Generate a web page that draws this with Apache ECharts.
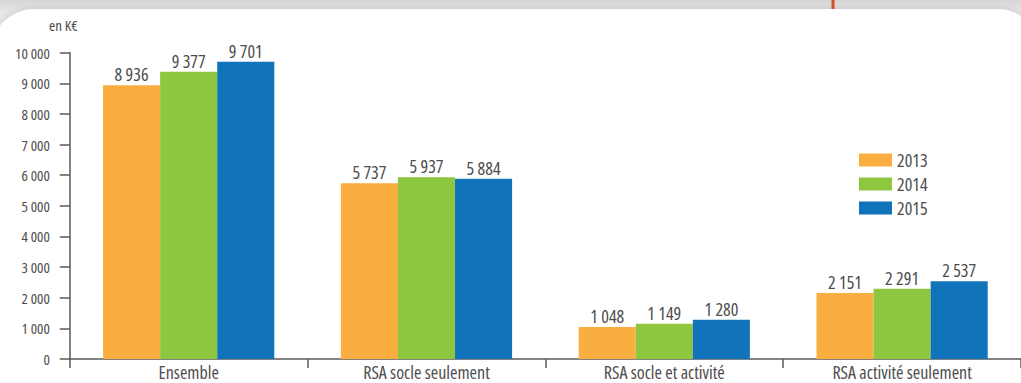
<!DOCTYPE html>
<html>
<head>
<meta charset="utf-8">
<style>
  html, body { margin: 0; padding: 0; background: #e4e4e4; }
  #chart { width: 1021px; height: 383px; }
  /* narrow cut of the face for every label of the chart */
  #chart svg text { font-stretch: condensed !important; }
</style>
<script src="https://cdn.jsdelivr.net/npm/echarts@6/dist/echarts.min.js"></script>
</head>
<body>
<div id="chart"></div>
<script>
// Dépenses par type d'allocation, en milliers d'euros
const categories = ['Ensemble', 'RSA socle seulement', 'RSA socle et activité', 'RSA activité seulement'];
const years = ['2013', '2014', '2015'];
const values2013 = [8936, 5737, 1048, 2151];
const values2014 = [9377, 5937, 1149, 2291];
const values2015 = [9701, 5884, 1280, 2537];
const yTicks = [0, 1000, 2000, 3000, 4000, 5000, 6000, 7000, 8000, 9000, 10000];

const colors = ['#FBAE40', '#8DC63F', '#1173BA'];
const FONT = '"Open Sans", sans-serif';
const TEXT = '#4d4d4d';

// 10000 -> "10 000"
const fmt = v => String(v).replace(/\B(?=(\d{3})+(?!\d))/g, ' ');

const seriesValues = [values2013, values2014, values2015];

const chart = echarts.init(document.getElementById('chart'), null, { renderer: 'svg' });

chart.setOption({
  animation: false,
  backgroundColor: {
    type: 'linear', x: 0, y: 0, x2: 0, y2: 1,
    colorStops: [
      { offset: 0, color: '#d6d6d6' },
      { offset: 0.03, color: '#e6e6e6' },
      { offset: 0.1, color: '#eeeeee' },
      { offset: 1, color: '#f2f2f2' }
    ]
  },
  graphic: [
    {
      type: 'rect',
      z: -10,
      silent: true,
      shape: { x: -10, y: 9, width: 1052, height: 420, r: 45 },
      style: { fill: '#ffffff', shadowBlur: 6, shadowColor: 'rgba(0,0,0,0.12)', shadowOffsetY: -1 }
    },
    {
      type: 'rect',
      z: -9,
      silent: true,
      shape: { x: 831.5, y: 0, width: 3, height: 9 },
      style: { fill: '#d4502a' }
    },
    {
      type: 'text',
      left: 49,
      top: 17,
      style: { text: 'en K€', font: '15px ' + FONT, fill: TEXT }
    }
  ],
  grid: { left: 65, right: -4, top: 52.7, bottom: 24, containLabel: false },
  legend: {
    orient: 'vertical',
    left: 854,
    top: 146,
    itemWidth: 33,
    itemHeight: 13,
    itemGap: 6,
    icon: 'rect',
    data: years,
    textStyle: { fontFamily: FONT, fontSize: 18, color: TEXT }
  },
  xAxis: {
    type: 'category',
    data: categories,
    axisLine: { show: true, lineStyle: { color: '#5a5a5a', width: 1.5 } },
    axisTick: { show: true, length: 9, lineStyle: { color: '#5a5a5a', width: 1.5 } },
    axisLabel: { interval: 0, margin: 4, fontFamily: FONT, fontSize: 18, color: TEXT }
  },
  yAxis: {
    type: 'value',
    min: yTicks[0],
    max: yTicks[yTicks.length - 1],
    interval: yTicks[1] - yTicks[0],
    splitLine: { show: false },
    axisLine: { show: true, lineStyle: { color: '#5a5a5a', width: 1.5 } },
    axisTick: { show: true, length: 10, lineStyle: { color: '#5a5a5a', width: 1.5 } },
    axisLabel: { margin: 20, fontFamily: FONT, fontSize: 15, color: TEXT, formatter: fmt }
  },
  series: years.map((y, i) => ({
    name: y,
    type: 'bar',
    data: seriesValues[i],
    barGap: '0%',
    barCategoryGap: '28%',
    itemStyle: { color: colors[i] },
    label: {
      show: true,
      position: 'top',
      distance: 2,
      fontFamily: FONT,
      fontSize: 18,
      color: TEXT,
      formatter: p => fmt(p.value)
    }
  }))
});
</script>
</body>
</html>
